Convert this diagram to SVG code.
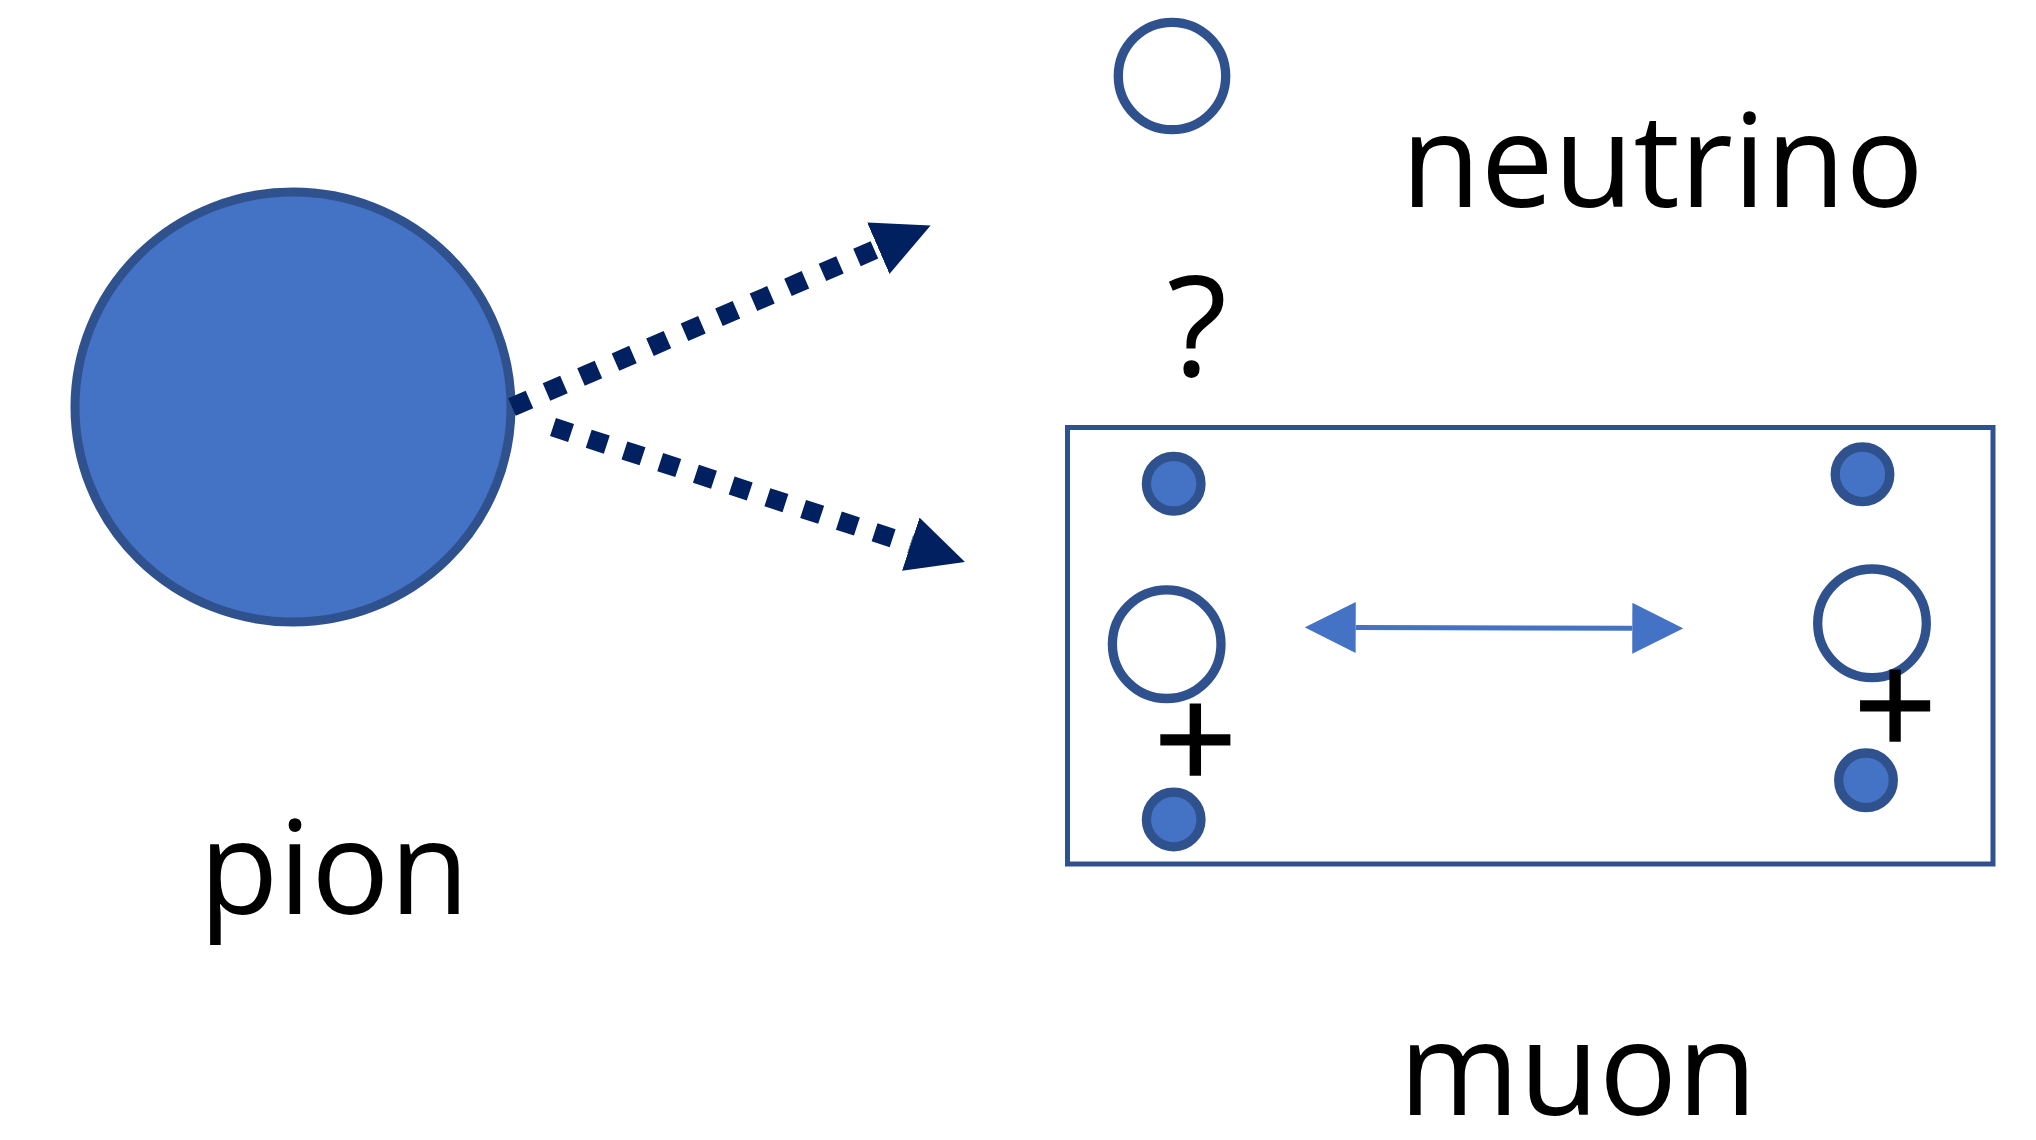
<svg xmlns="http://www.w3.org/2000/svg" width="2036" height="1140" viewBox="0 0 2036 1140">
  <style>
    .lbl { font-family: "Open Sans", "Noto Sans", sans-serif; font-size: 130px; fill: #000000; }
    .sym { font-family: "Open Sans", "Noto Sans", sans-serif; fill: #000000; }
    .plus { font-family: "Open Sans", "Noto Sans", sans-serif; font-size: 146px; fill: #000000; stroke: #000000; stroke-width: 1.6; }
    .dot { fill: #4472C4; stroke: #2F528F; stroke-width: 9.3; }
    .ring { fill: #FFFFFF; stroke: #2F528F; stroke-width: 9.3; }
    .dotted { fill: none; stroke: #002060; stroke-width: 19; stroke-dasharray: 19 18.6; marker-end: url(#headDark); }
    .both { fill: none; stroke: #4472C4; stroke-width: 5; marker-start: url(#headLight); marker-end: url(#headLight); }
  </style>
  <defs>
    <marker id="headDark" viewBox="0 0 57 56" refX="0" refY="28" markerWidth="57" markerHeight="56" markerUnits="userSpaceOnUse" orient="auto">
      <path d="M0,0 L57,28 L0,56 Z" fill="#002060"/>
    </marker>
    <marker id="headLight" viewBox="0 0 51 51" refX="0" refY="25.5" markerWidth="51" markerHeight="51" markerUnits="userSpaceOnUse" orient="auto-start-reverse">
      <path d="M0,0 L51,25.5 L0,51 Z" fill="#4472C4"/>
    </marker>
  </defs>
  <rect x="0" y="0" width="2036" height="1140" fill="#FFFFFF"/>

  <g id="pion">
    <ellipse cx="293" cy="407" rx="218" ry="215" fill="#4472C4" stroke="#2F528F" stroke-width="9"/>
    <text class="lbl" x="199" y="914">pion</text>
  </g>

  <g id="neutrino">
    <circle class="ring" cx="1172" cy="76" r="53.7"/>
    <text class="lbl" x="1401" y="207">neutrino</text>
  </g>

  <g id="question">
    <text class="sym" x="1197" y="376" font-size="140" text-anchor="middle">?</text>
  </g>

  <g id="muon">
    <rect x="1067.5" y="427.5" width="925.5" height="436.5" fill="none" stroke="#2F528F" stroke-width="5"/>
    <circle class="dot" cx="1173.7" cy="483.7" r="27.3"/>
    <circle class="ring" cx="1166.7" cy="644.2" r="54.3"/>
    <text class="plus" x="1195.5" y="791" text-anchor="middle">+</text>
    <circle class="dot" cx="1173.7" cy="819.5" r="27.3"/>
    <circle class="dot" cx="1862.5" cy="474.3" r="27.3"/>
    <circle class="ring" cx="1872" cy="623.3" r="54.3"/>
    <text class="plus" x="1895.3" y="757" text-anchor="middle">+</text>
    <circle class="dot" cx="1866" cy="780.3" r="27.3"/>
    <text class="lbl" x="1399" y="1115">muon</text>
  </g>

  <g id="connectors">
    <path class="dotted" d="M512,407 L878.3,248.2"/>
    <path class="dotted" d="M553,427 L910.8,544.2"/>
    <path class="both" d="M1355.7,627.5 L1632.3,628.3"/>
  </g>
</svg>
